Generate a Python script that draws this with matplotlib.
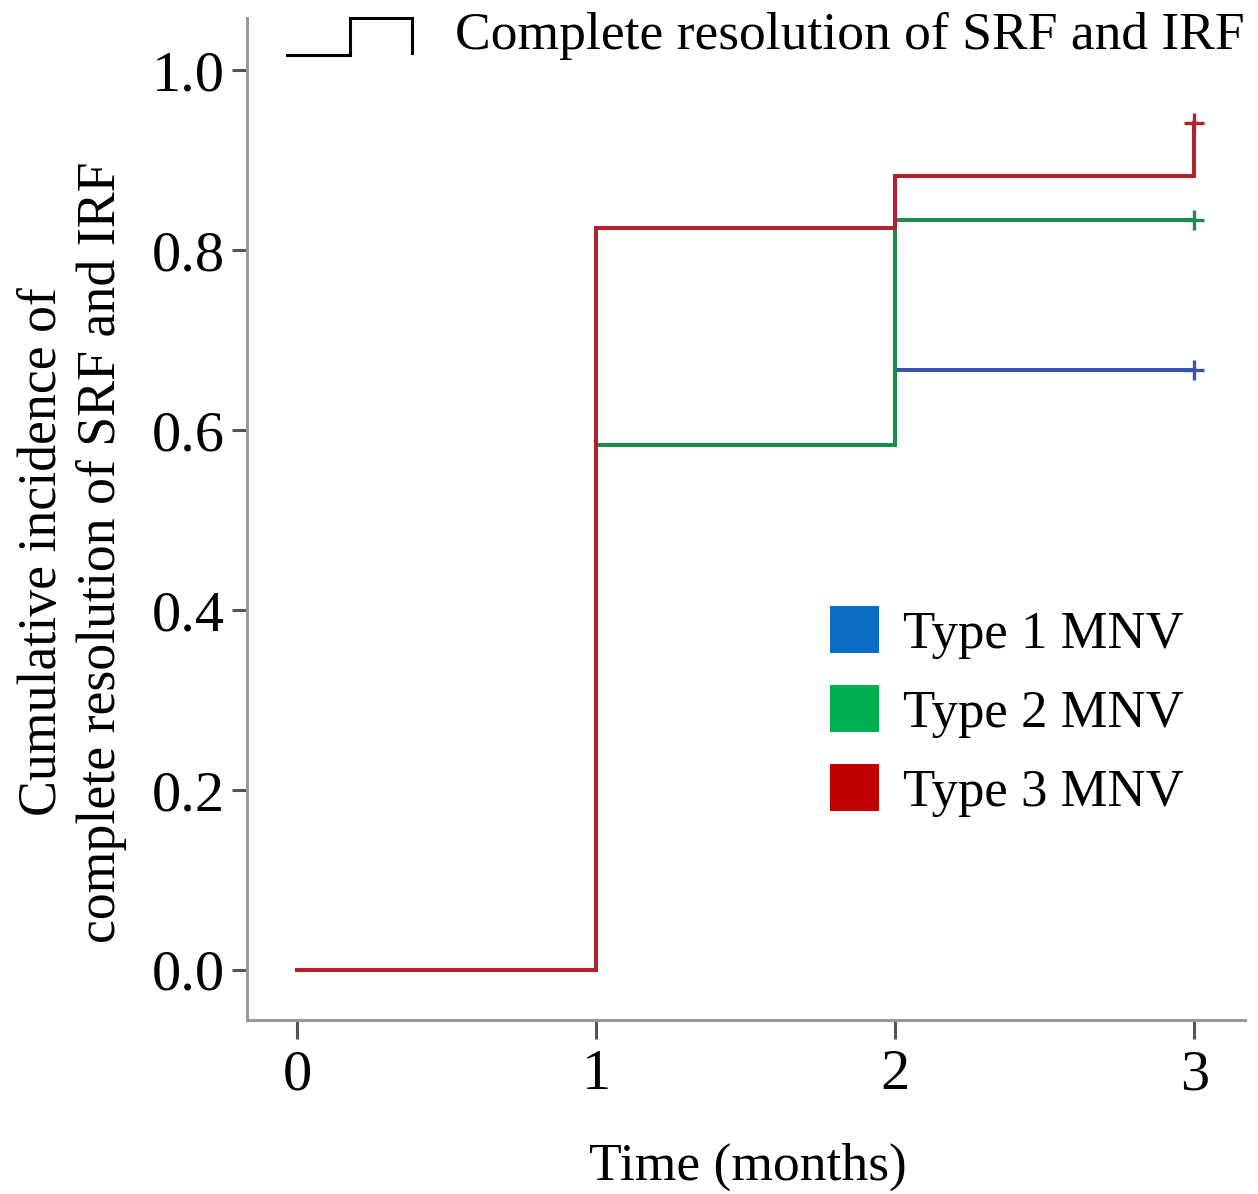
import matplotlib
matplotlib.use("Agg")
import matplotlib.pyplot as plt
from matplotlib.patches import Patch
from matplotlib.lines import Line2D

# ---- data ----
times = [0, 1, 2, 3]
type1_mnv = [0.0, 0.583, 0.667, 0.667]
type2_mnv = [0.0, 0.583, 0.833, 0.833]
type3_mnv = [0.0, 0.825, 0.882, 0.941]
series_labels = ["Type 1 MNV", "Type 2 MNV", "Type 3 MNV"]
x_ticks = [0, 1, 2, 3]
y_ticks = [0.0, 0.2, 0.4, 0.6, 0.8, 1.0]
y_tick_labels = ["0.0", "0.2", "0.4", "0.6", "0.8", "1.0"]

line_colors = ["#3a52b2", "#1b8c4c", "#b2222c"]
patch_colors = ["#0a6cc4", "#00b050", "#c00000"]

plt.rcParams['font.family'] = ['Liberation Serif', 'DejaVu Serif']

W, H = 1258, 1194
fig = plt.figure(figsize=(W / 100, H / 100), dpi=100)
ax = fig.add_axes([247 / W, 1 - 1020 / H, (1245 - 247) / W, (1020 - 18) / H])

for ys, c in zip([type1_mnv, type2_mnv, type3_mnv], line_colors):
    ax.step(times, ys, where='post', color=c, lw=2.9, solid_joinstyle='miter')
    ax.plot([times[-1]], [ys[-1]], marker='+', color=c, ms=14, mew=2.4)

ax.set_xlim(-0.167, 3.17)
ax.set_ylim(-0.0556, 1.058)
ax.set_xticks(x_ticks)
ax.set_xticklabels([str(t) for t in x_ticks])
ax.set_yticks(y_ticks)
ax.set_yticklabels(y_tick_labels)

spine_c = "#999999"
for s in ['top', 'right']:
    ax.spines[s].set_visible(False)
for s in ['left', 'bottom']:
    ax.spines[s].set_color(spine_c)
    ax.spines[s].set_linewidth(2.2)
ax.tick_params(axis='y', length=11, width=2.2, color="#555555", labelsize=42, pad=5)
ax.tick_params(axis='x', length=14, width=2.2, color="#555555", labelsize=42, pad=7)

# legend
handles = [Patch(facecolor=c, edgecolor='none') for c in patch_colors]
ax.legend(handles, series_labels, loc='upper left',
          bbox_to_anchor=((830 - 247) / 998, (1020 - 606) / 1002),
          frameon=False, fontsize=38, handlelength=0.92, handleheight=1.0,
          handletextpad=0.46, labelspacing=0.5, borderpad=0, borderaxespad=0)

# top key
kx = [287, 350, 350, 412, 412]
ky = [55, 55, 18, 18, 53]
fig.add_artist(Line2D([x / W for x in kx], [1 - y / H for y in ky], color='black', lw=2.2,
                      transform=fig.transFigure, solid_joinstyle='miter'))
fig.text(455 / W, 1 - 36 / H, "Complete resolution of SRF and IRF", fontsize=38.5,
         ha='left', va='center')

# axis labels
fig.text(748 / W, 1 - 1167 / H, "Time (months)", fontsize=38.5, ha='center', va='center')
fig.text(72 / W, 1 - 552 / H, "Cumulative incidence of\ncomplete resolution of SRF and IRF",
         fontsize=38.7, rotation=90, ha='center', va='center', multialignment='center',
         linespacing=1.2)

fig.savefig("out.png", dpi=100)
